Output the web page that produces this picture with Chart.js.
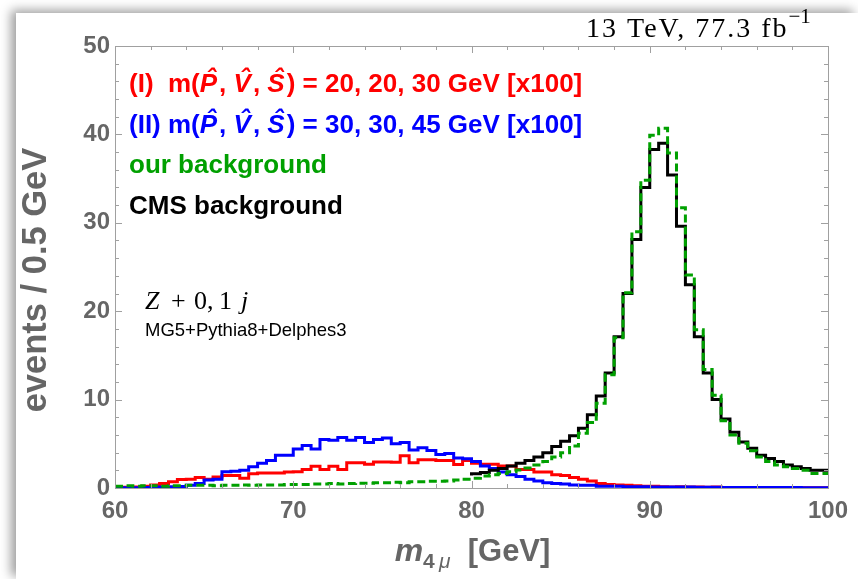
<!DOCTYPE html>
<html>
<head>
<meta charset="utf-8">
<script src="https://cdn.jsdelivr.net/npm/chart.js@4.4.1/dist/chart.umd.min.js"></script>
<style>
  body { margin: 0; background: #fff; }
  #card { position: absolute; left: 16px; top: 13px; width: 842px; height: 566px; background: #fff;
          box-shadow: -5px -3px 10px rgba(0,0,0,0.38); }
  #chart { position: absolute; left: 0; top: 0; }
</style>
</head>
<body>
<div id="card"></div>
<canvas id="chart" width="858" height="579"></canvas>
<script>
// histogram bins: 60..100 GeV, 0.5 GeV wide
const binStart = 60;
const binWidth = 0.5;
const xTicks = [60, 70, 80, 90, 100];
const yTicks = [0, 10, 20, 30, 40, 50];

// (I) m(P,V,S) = 20, 20, 30 GeV, x100
const signalI = [
  0.05, 0.05, 0.08, 0.1, 0.2, 0.35, 0.5, 0.7, 0.95, 1.0,
  1.2, 1.0, 1.25, 1.4, 1.4, 1.1, 1.6, 1.7, 1.7, 1.7,
  1.8, 1.85, 2.1, 2.45, 2.1, 2.45, 2.1, 2.85, 2.85, 2.7,
  2.95, 2.95, 2.9, 3.65, 2.85, 3.2, 3.2, 3.1, 3.1, 2.65,
  3.1, 2.8, 2.7, 2.7, 2.5, 2.5, 2.1, 2.1, 1.8, 1.8,
  1.5, 1.4, 1.2, 1.0, 0.8, 0.5, 0.4, 0.35, 0.3, 0.25,
  0.2, 0.2, 0.15, 0.12, 0.15, 0.1, 0.1, 0.08, 0.1, 0.06,
  0.05, 0.06, 0.05, 0.04, 0.05, 0.04, 0.03, 0.04, 0.03, 0.03
];

// (II) m(P,V,S) = 30, 30, 45 GeV, x100
const signalII = [
  0.02, 0.02, 0.03, 0.04, 0.06, 0.1, 0.12, 0.15, 0.18, 0.3,
  0.5, 0.9, 1.0, 1.85, 1.9, 2.0, 2.4, 2.8, 3.1, 3.7,
  3.7, 4.4, 4.8, 4.4, 5.5, 5.4, 5.7, 5.4, 5.7, 5.15,
  5.5, 5.65, 5.0, 5.15, 4.3, 4.55, 4.25, 3.8, 3.9, 3.4,
  3.3, 3.0, 2.5, 2.2, 1.8, 1.5, 1.3, 1.0, 0.8, 0.6,
  0.5, 0.45, 0.35, 0.3, 0.3, 0.2, 0.2, 0.2, 0.15, 0.15,
  0.15, 0.12, 0.1, 0.1, 0.1, 0.1, 0.08, 0.08, 0.08, 0.07,
  0.07, 0.06, 0.06, 0.05, 0.05, 0.05, 0.05, 0.05, 0.04, 0.04
];

const ourBg = [
  0.2, 0.2, 0.25, 0.2, 0.25, 0.25, 0.2, 0.25, 0.25, 0.3,
  0.3, 0.3, 0.25, 0.3, 0.3, 0.35, 0.3, 0.35, 0.35, 0.35,
  0.4, 0.4, 0.4, 0.45, 0.45, 0.5, 0.45, 0.5, 0.55, 0.55,
  0.6, 0.6, 0.65, 0.6, 0.7, 0.7, 0.75, 0.75, 0.8, 0.9,
  1.0, 1.1, 1.35, 1.5, 1.65, 1.85, 2.05, 2.25, 2.6, 3.0,
  3.5, 4.0, 4.75, 6.2, 7.4, 9.6, 12.8, 17.0, 22.1, 29.0,
  34.8, 39.9, 40.7, 37.9, 31.7, 24.1, 17.9, 13.4, 10.5, 7.6,
  6.0, 5.05, 4.2, 3.5, 3.0, 2.6, 2.4, 2.2, 2.0, 1.65
];

// CMS background only given from 80 GeV
const cmsStart = 80;
const cmsBg = [
  1.4, 1.6, 1.75, 2.0, 2.2, 2.5, 2.8, 3.1, 3.5, 4.0,
  4.7, 5.3, 5.9, 6.75, 8.3, 10.4, 13.0, 17.1, 22.0, 28.1,
  34.0, 38.3, 39.0, 35.4, 29.6, 23.0, 17.1, 13.0, 10.0, 7.8,
  6.3, 5.2, 4.5, 3.7, 3.35, 3.0, 2.6, 2.4, 2.2, 2.0
];

const RED = '#ff0000', BLUE = '#0000ff', GREEN = '#00a000', BLACK = '#000000';
const GRAY = '#666666';

function histPoints(values, x0) {
  const pts = values.map((v, i) => ({ x: x0 + i * binWidth, y: v }));
  pts.push({ x: x0 + values.length * binWidth, y: values[values.length - 1] });
  return pts;
}

const B26 = 'bold 26px "Liberation Sans"';
const BI26 = 'italic bold 26px "Liberation Sans"';

function drawRuns(ctx, x, y, runs, color) {
  ctx.fillStyle = color;
  ctx.textAlign = 'left';
  ctx.textBaseline = 'alphabetic';
  for (const r of runs) {
    ctx.font = r.f;
    if (r.at !== undefined) x = r.at;
    const w = ctx.measureText(r.t).width;
    ctx.fillText(r.t, x, y + (r.dy || 0));
    if (r.hat) {
      ctx.textAlign = 'center';
      ctx.fillText('\u02C6', x + w * 0.58 + 1, y - 5);
      ctx.textAlign = 'left';
    }
    x += w + (r.pad || 0);
  }
  return x;
}

function legendRuns(prefix, suffix) {
  return [
    { t: prefix, f: B26 },
    { t: 'P', f: BI26, hat: true, pad: 2 }, { t: ', ', f: B26 },
    { t: 'V', f: BI26, hat: true, pad: 2 }, { t: ', ', f: B26 },
    { t: 'S', f: BI26, hat: true, pad: 2 }, { t: suffix, f: B26 }
  ];
}

const framePlugin = {
  id: 'frame',
  afterDraw(chart) {
    const { ctx, chartArea: a } = chart;
    const xs = chart.scales.x, ys = chart.scales.y;
    ctx.save();
    ctx.strokeStyle = '#a0a0a0';
    ctx.lineWidth = 1;
    ctx.strokeRect(a.left + 0.5, a.top + 0.5, a.right - a.left, a.bottom - a.top);
    ctx.beginPath();
    for (let v = 60; v <= 100; v += 2) {
      const px = Math.round(xs.getPixelForValue(v)) + 0.5;
      const len = v % 10 === 0 ? 7 : 4;
      ctx.moveTo(px, a.bottom); ctx.lineTo(px, a.bottom - len);
      ctx.moveTo(px, a.top); ctx.lineTo(px, a.top + len);
    }
    for (let v = 0; v <= 50; v += 2) {
      const py = Math.round(ys.getPixelForValue(v)) + 0.5;
      const len = v % 10 === 0 ? 7 : 4;
      ctx.moveTo(a.left, py); ctx.lineTo(a.left + len, py);
      ctx.moveTo(a.right, py); ctx.lineTo(a.right - len, py);
    }
    ctx.stroke();

    // legend text
    drawRuns(ctx, 129, 92, legendRuns('(I)  m(', ') = 20, 20, 30 GeV [x100]'), RED);
    drawRuns(ctx, 129, 133, legendRuns('(II) m(', ') = 30, 30, 45 GeV [x100]'), BLUE);
    drawRuns(ctx, 129, 173, [{ t: 'our background', f: B26 }], GREEN);
    drawRuns(ctx, 129, 214, [{ t: 'CMS background', f: B26 }], BLACK);

    // process annotation
    const serif = '26px "Liberation Serif"', serifI = 'italic 26px "Liberation Serif"';
    drawRuns(ctx, 145, 309, [
      { t: 'Z', f: serifI, at: 145 },
      { t: '+', f: serif, at: 171 },
      { t: '0,', f: serif, at: 194 },
      { t: '1', f: serif, at: 219 },
      { t: 'j', f: serifI, at: 241 }
    ], BLACK);
    drawRuns(ctx, 145, 336, [{ t: 'MG5+Pythia8+Delphes3', f: '18.5px "Liberation Sans"' }], BLACK);

    // luminosity label
    ctx.letterSpacing = '2px';
    const xe = drawRuns(ctx, 586, 37, [{ t: '13 TeV, 77.3 fb', f: '28px "Liberation Serif"' }], BLACK);
    ctx.letterSpacing = '0px';
    drawRuns(ctx, xe, 23, [{ t: '\u22121', f: '21px "Liberation Serif"' }], BLACK);

    // x title
    const mid = (a.left + a.right) / 2;
    const xRuns = [
      { t: 'm', f: 'italic bold 32px "Liberation Sans"' },
      { t: '4', f: 'bold 21px "Liberation Sans"', dy: 7 },
      { t: '\u2009\u03bc', f: 'italic 21px "Liberation Sans"', dy: 7 },
      { t: '  [GeV]', f: 'bold 31px "Liberation Sans"' }
    ];
    let tw = 0;
    for (const r of xRuns) { ctx.font = r.f; tw += ctx.measureText(r.t).width; }
    drawRuns(ctx, mid - tw / 2 + 1, 561, xRuns, GRAY);

    // y title
    ctx.translate(46, 280);
    ctx.rotate(-Math.PI / 2);
    ctx.font = 'bold 34.5px "Liberation Sans"';
    ctx.fillStyle = GRAY;
    ctx.textAlign = 'center';
    ctx.fillText('events / 0.5 GeV', 0, 0);
    ctx.restore();
  }
};

const lineStyle = { stepped: 'after', pointRadius: 0, borderWidth: 3, fill: false, spanGaps: false };

new Chart(document.getElementById('chart'), {
  type: 'line',
  data: {
    datasets: [
      { ...lineStyle, label: 'our background', data: histPoints(ourBg, binStart),
        borderColor: GREEN, borderDash: [8, 4] },
      { ...lineStyle, label: 'CMS background', data: histPoints(cmsBg, cmsStart),
        borderColor: BLACK },
      { ...lineStyle, label: '(II)', data: histPoints(signalII, binStart), borderColor: BLUE },
      { ...lineStyle, label: '(I)', data: histPoints(signalI, binStart), borderColor: RED }
    ]
  },
  options: {
    responsive: false,
    animation: false,
    events: [],
    layout: { padding: { left: 0, top: 46, right: 30, bottom: 0 } },
    plugins: { legend: { display: false }, tooltip: { enabled: false } },
    scales: {
      x: {
        type: 'linear', min: 60, max: 100,
        grid: { display: false, drawTicks: false }, border: { display: false },
        afterBuildTicks: s => { s.ticks = xTicks.map(v => ({ value: v })); },
        ticks: { padding: 9, color: GRAY, font: { family: 'Liberation Sans', weight: 'bold', size: 24 } },
        afterFit: s => { s.height = 91; }
      },
      y: {
        min: 0, max: 50,
        grid: { display: false, drawTicks: false }, border: { display: false },
        afterBuildTicks: s => { s.ticks = yTicks.map(v => ({ value: v })); },
        ticks: { padding: 5, color: GRAY, font: { family: 'Liberation Sans', weight: 'bold', size: 24 } },
        afterFit: s => { s.width = 115; }
      }
    }
  },
  plugins: [framePlugin]
});
</script>
</body>
</html>
